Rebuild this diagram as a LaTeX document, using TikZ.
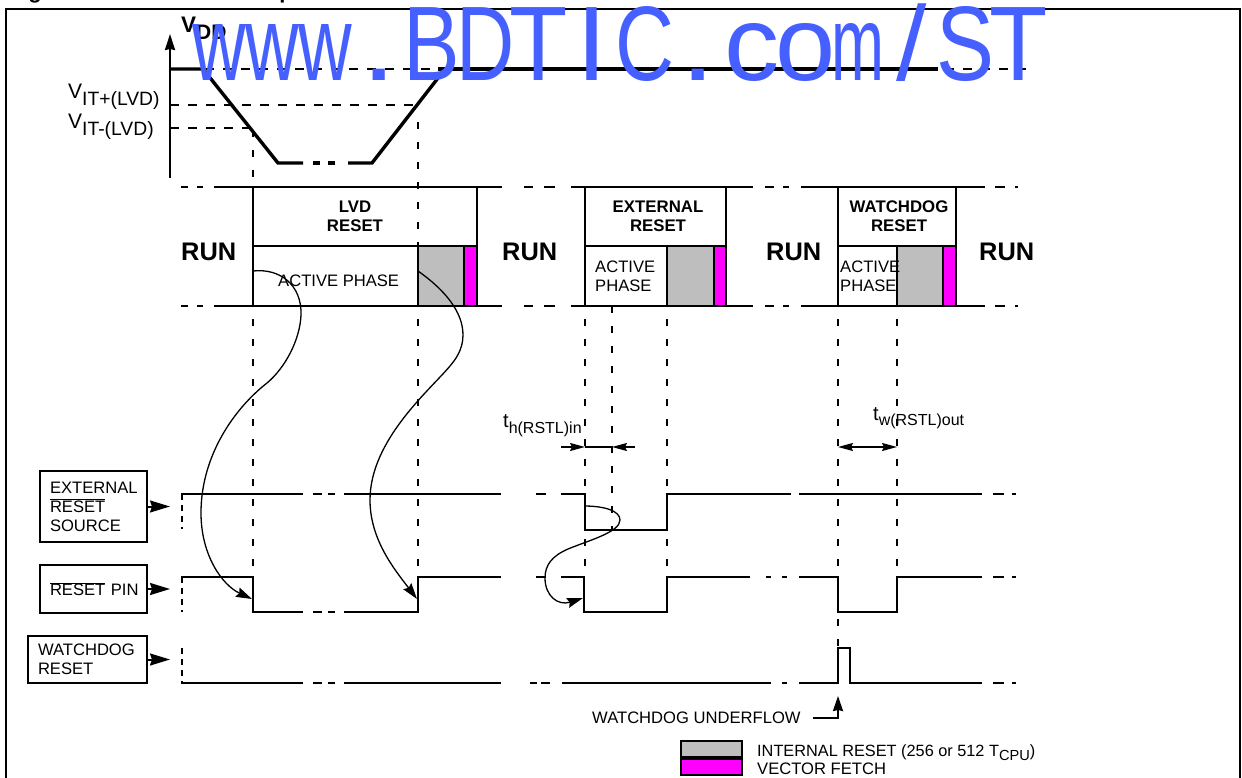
\documentclass[tikz,border=0pt]{standalone}
\usepackage{fontspec}
\setmainfont{Liberation Sans}
\usetikzlibrary{arrows.meta}
\definecolor{intgray}{HTML}{BEBEBE}
\definecolor{vecmag}{HTML}{FF00FF}
\definecolor{markblue}{HTML}{4660FF}
\newcommand{\sz}[1]{\fontsize{#1}{#1}\selectfont}
\newcommand{\lowtxt}[3]{\raisebox{-#1}{\sz{#2}#3}}
\newcommand{\ovl}[1]{$\overline{\mbox{#1}}$}
\newcommand{\mk}[2]{\makebox[53.3pt][c]{\scalebox{#1}[1]{#2}}}
\tikzset{
  sig/.style={line width=2.1pt},
  vdash/.style={line width=2.1pt, dash pattern=on 7pt off 13pt},
  hdash/.style={line width=1.7pt, dash pattern=on 9pt off 9pt},
  flow/.style={line width=1.3pt, -{Stealth[length=16pt,width=10pt,inset=2pt]}},
  dimtip/.style={line width=1.6pt, -{Stealth[length=15pt,width=8pt,inset=2pt]}},
  bigtip/.style={line width=2pt, -{Stealth[length=20pt,width=12pt,inset=2pt]}},
  lbl/.style={inner sep=0pt, font=\fontsize{16.6}{19}\selectfont},
  blbl/.style={inner sep=0pt, font=\fontsize{16.8}{19}\selectfont\bfseries, align=center},
  runlbl/.style={inner sep=0pt, anchor=base west, font=\fontsize{25.4}{28}\selectfont\bfseries},
  srcbox/.style={draw, line width=2.1pt, inner sep=0pt, align=left, font=\fontsize{16.6}{19}\selectfont},
}
\begin{document}
\begin{tikzpicture}[x=1pt,y=-1pt]
\useasboundingbox (0,0) rectangle (1242,778);
\clip (0,0) rectangle (1242,778);

\node[inner sep=0pt, anchor=base, font=\sz{22}\bfseries] (titleg) at (35,-1) {g};
\node[inner sep=0pt, anchor=base, font=\sz{22}\bfseries] (titlep) at (286,-1) {p};
\draw [line width=2.5pt] (6,9) rectangle (1240,800);

% VDD plot
\draw [line width=2pt, -{Stealth[length=16pt,width=10pt,inset=1pt]}] (170,178) -- (170,34);
\node[inner sep=0pt, anchor=base west, font=\sz{22.5}\bfseries] (vdd) at (181,33) {V\lowtxt{7pt}{21}{DD}};
\node[inner sep=0pt, anchor=base west, font=\sz{21}] (vitp) at (68,99) {V\lowtxt{7pt}{19.3}{IT+(LVD)}};
\node[inner sep=0pt, anchor=base west, font=\sz{21}] (vitm) at (68,129) {V\lowtxt{7pt}{19.3}{IT-(LVD)}};
\draw [hdash] (205,69) -- (445,69);
\draw [hdash] (945,69) -- (1030,69);
\draw [hdash] (170,105) -- (417,105);
\draw [hdash] (170,128) -- (253,128);
\draw [line width=3.4pt] (170,69) -- (203,69) -- (278,163) -- (303,163);
\draw [line width=3.4pt] (313,163) -- (320,163);
\draw [line width=3.4pt] (328,163) -- (335,163);
\draw [line width=3.4pt] (348,163) -- (372,163) -- (445,69);
\draw [line width=3.8pt] (438,69) -- (938,69);
\draw [vdash] (253,130) -- (253,187);
\draw [vdash] (418,122) -- (418,245);

% phase band
\fill [intgray] (418,246) rectangle (464,306);
\fill [intgray] (667,246) rectangle (714,306);
\fill [intgray] (897,246) rectangle (943,306);
\fill [vecmag] (464,246) rectangle (477,306);
\fill [vecmag] (714,246) rectangle (726,306);
\fill [vecmag] (943,246) rectangle (956,306);
\foreach \y in {187, 306}
\foreach \a/\b in {181/188, 197/203, 214/502, 524/533, 544/555, 571/753, 765/774, 783/789, 801/985, 995/1005, 1015/1018}
\draw [sig] (\a,\y) -- (\b,\y);
\foreach \x in {253, 477, 585, 726, 838, 956}
\draw [sig] (\x,187) -- (\x,306);
\foreach \x in {418, 464, 667, 714, 897, 943}
\draw [sig] (\x,246) -- (\x,306);
\draw [sig] (253,246) -- (477,246);
\draw [sig] (585,246) -- (726,246);
\draw [sig] (838,246) -- (956,246);

\node[runlbl] (run1) at (181,260) {RUN};
\node[runlbl] (run2) at (502,260) {RUN};
\node[runlbl] (run3) at (766,260) {RUN};
\node[runlbl] (run4) at (979,260) {RUN};
\node[blbl] (lvd) at (355,216) {LVD\\RESET};
\node[blbl] (ext) at (658,216) {EXTERNAL\\RESET};
\node[blbl] (wdg) at (899,216) {WATCHDOG\\RESET};
\node[lbl, anchor=base west] (act1) at (278,286) {ACTIVE PHASE};
\node[lbl, align=left, anchor=west] (act2) at (595,276) {ACTIVE\\PHASE};
\node[lbl, align=left, anchor=west] (act3) at (840,276) {ACTIVE\\PHASE};

% guide lines
\foreach \x in {253, 418, 585, 667, 897}
\draw [vdash] (\x,319) -- (\x,577);
\draw [vdash] (612,306) -- (612,530);
\draw [vdash] (838,319) -- (838,648);
\foreach \y in {494, 577, 648}
\draw [vdash, dash pattern=on 6pt off 5pt] (182,\y) -- (182,\y+35);

% signals
\foreach \a/\b in {181/303, 313/322, 328/335, 344/501, 536/546}
\draw [sig] (\a,494) -- (\b,494);
\draw [sig] (561,494) -- (585,494) -- (585,530) -- (667,530) -- (667,494) -- (791,494);
\draw [sig] (799,494) -- (982,494);
\foreach \a/\b in {536/546, 766/771, 782/787}
\draw [sig] (\a,577) -- (\b,577);
\foreach \a/\b in {313/322, 328/335}
\draw [sig] (\a,612) -- (\b,612);
\draw [sig] (181,577) -- (253,577) -- (253,612) -- (303,612);
\draw [sig] (344,612) -- (418,612) -- (418,577) -- (501,577);
\draw [sig] (561,577) -- (584,577) -- (584,612) -- (667,612) -- (667,577) -- (750,577);
\draw [sig] (799,577) -- (838,577) -- (838,612) -- (897,612) -- (897,577) -- (982,577);
\foreach \a/\b in {181/303, 313/322, 328/335, 344/501, 530/537, 541/550, 782/787}
\draw [sig] (\a,683) -- (\b,683);
\draw [sig] (562,683) -- (771,683);
\draw [sig] (799,683) -- (838,683) -- (838,648) -- (850,648) -- (850,683) -- (982,683);
\foreach \y in {494, 577, 683}
\foreach \a/\b in {993/1004, 1012/1016}
\draw [sig] (\a,\y) -- (\b,\y);

% source boxes
\node[srcbox, minimum width=107pt, minimum height=71pt, text width=87pt] (extsrc) at (93.5,506.5) {EXTERNAL\\\ovl{RESET}\\SOURCE};
\node[srcbox, minimum width=107pt, minimum height=48pt, text width=87pt] (pinsrc) at (93.5,589) {\rlap{\ovl{RESET} PIN}};
\node[srcbox, minimum width=119pt, minimum height=47pt, text width=99pt] (wdgsrc) at (87.5,659.5) {WATCHDOG\\RESET};
\coordinate (extin) at (170,506.5);
\coordinate (pinin) at (170,589);
\coordinate (wdgin) at (170,659.5);
\foreach \b/\c in {extsrc/extin, pinsrc/pinin, wdgsrc/wdgin}
\draw [bigtip] (\b) -- (\c);

% cause arrows
\draw [flow] (253,271) .. controls (280,268) and (302,285) .. (301,315) .. controls (300,340) and (285,368) .. (267,383) .. controls (235,408) and (201,455) .. (201,513) .. controls (201,555) and (222,585) .. (252,599);
\draw [flow] (418,271) .. controls (445,290) and (463,312) .. (463,335) .. controls (463,350) and (455,360) .. (450,366) .. controls (430,390) and (370,440) .. (370,500) .. controls (370,540) and (395,570) .. (417,599);
\draw [flow] (584,506) .. controls (605,506) and (620,511) .. (620,520) .. controls (620,532) and (590,540) .. (568,549) .. controls (552,556) and (545,565) .. (545,578) .. controls (545,596) and (558,606) .. (583,598);

% timings
\node[inner sep=0pt, anchor=base west, font=\sz{20}] (thlbl) at (503,427) {t\lowtxt{6pt}{16}{h(RSTL)in}};
\node[inner sep=0pt, anchor=base west, font=\sz{20}] (twlbl) at (873,420) {t\lowtxt{5pt}{16}{w(RSTL)out}};
\coordinate (thl) at (585,447);
\coordinate (thr) at (612,447);
\coordinate (twl) at (838,447);
\coordinate (twr) at (897,447);
\draw [dimtip] (561,447) -- (thl);
\draw [dimtip] (635,447) -- (thr);
\draw [line width=1.6pt] (thl) -- (thr);
\draw [dimtip, {Stealth[length=15pt,width=8pt,inset=2pt]}-{Stealth[length=15pt,width=8pt,inset=2pt]}] (twl) -- (twr);

% underflow and legend
\node[lbl, anchor=base west] (uflow) at (592,723) {WATCHDOG UNDERFLOW};
\coordinate (ufa) at (813,718);
\coordinate (ufb) at (838,696);
\draw [line width=2pt, -{Stealth[length=15pt,width=10pt,inset=1pt]}] (ufa) -| (ufb);
\draw [line width=2.2pt, fill=intgray] (681,741) rectangle (742,757);
\draw [line width=2.2pt, fill=vecmag] (681,759) rectangle (742,775);
\node[inner sep=0pt, anchor=base west, font=\sz{16.3}] (leg1) at (757,756) {INTERNAL RESET (256 or 512 T\lowtxt{4pt}{14.6}{CPU})};
\node[lbl, anchor=base west] (leg2) at (757,774) {VECTOR FETCH};

% overprinted mark
\node[inner sep=0pt, anchor=base west, font=\sz{106}, text=markblue] (mark) at (192,81) {\mk{.7}{w}\mk{.7}{w}\mk{.7}{w}\mk{1.2}{.}\mk{.8}{B}\mk{.76}{D}\mk{.9}{T}\mk{1.05}{I}\mk{.77}{C}\mk{1.2}{.}\mk{1.04}{c}\mk{1.02}{o}\mk{.6}{m}\mk{1.03}{/}\mk{.82}{S}\mk{.9}{T}};
\end{tikzpicture}
\end{document}
